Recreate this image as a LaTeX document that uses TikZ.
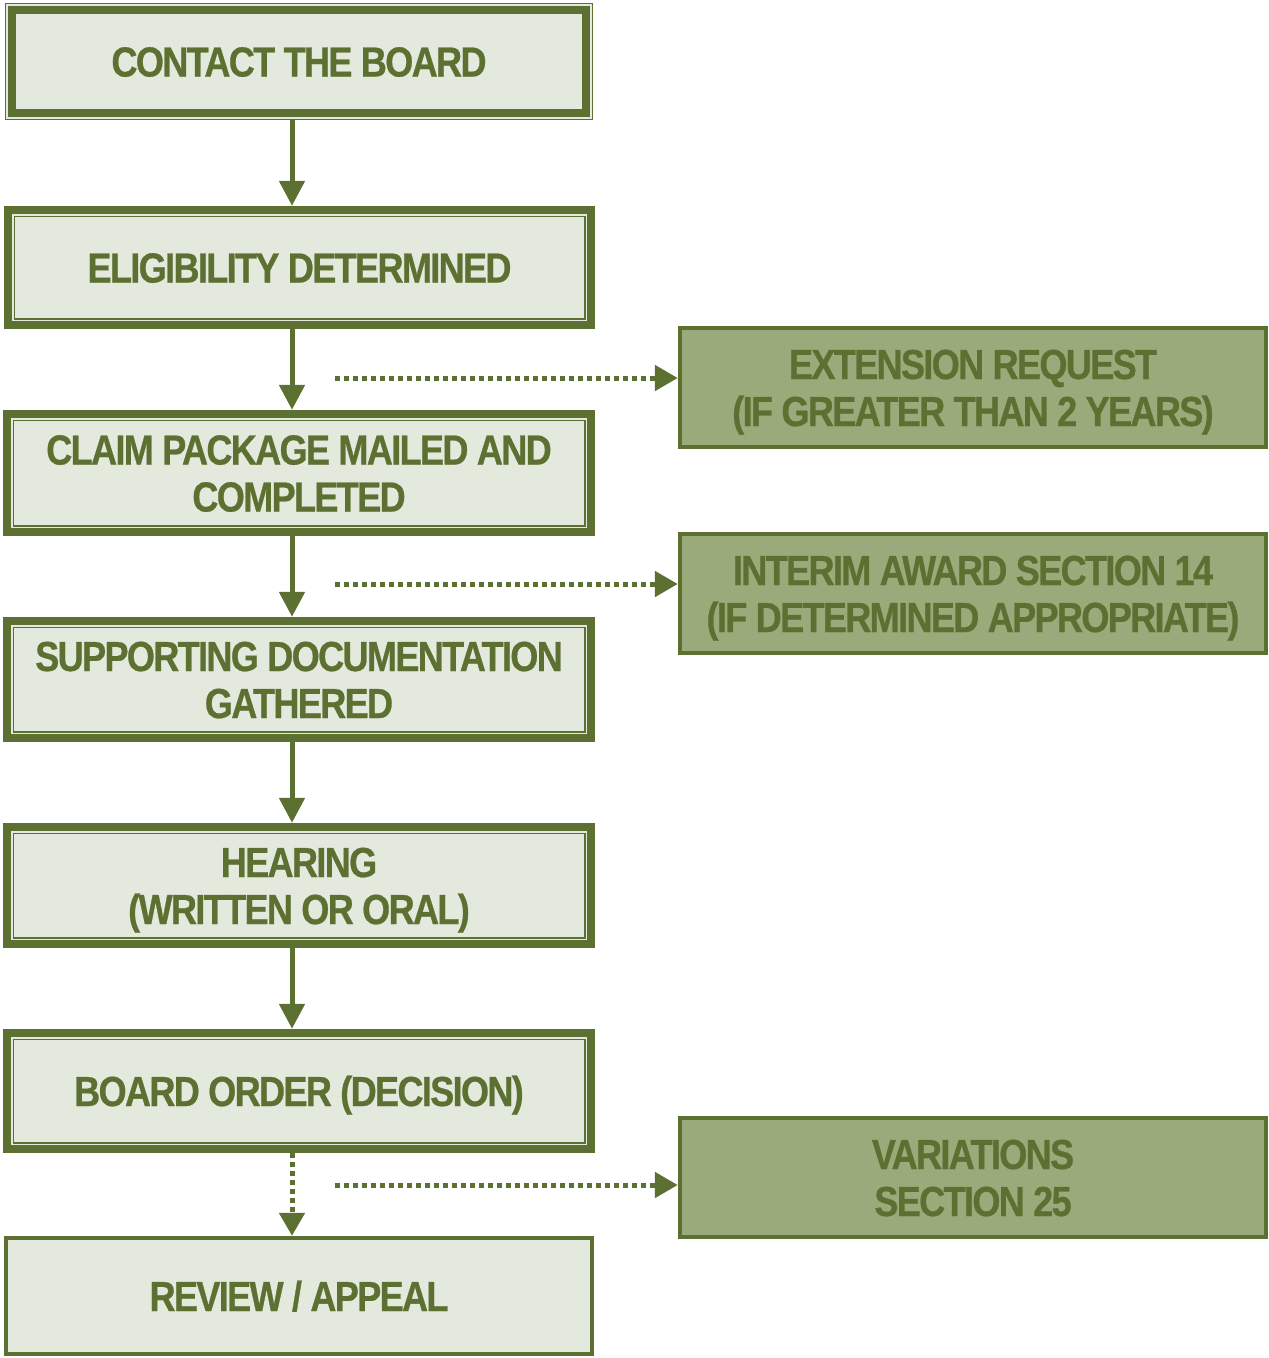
\documentclass[tikz,border=0pt]{standalone}
\usepackage{fontspec}
\newfontfamily\boxfont{Liberation Sans}[FakeStretch=0.86,LetterSpace=-4,FakeBold=0.6]
\usetikzlibrary{arrows.meta}
\definecolor{dk}{RGB}{91,112,49}
\definecolor{lt}{RGB}{227,233,221}
\definecolor{md}{RGB}{155,170,122}
\newcommand\capline[1]{\raisebox{0pt}[30pt][0pt]{#1}}
\tikzset{
  basebox/.style={inner sep=0pt, align=center, text=dk,
    font=\boxfont\bfseries\fontsize{42}{47}\selectfont},
  mainbox/.style={basebox, fill=lt},
  sidebox/.style={basebox, fill=md},
  solidarr/.style={dk, line width=5pt, -{Triangle[width=25pt,length=25pt]}},
  dotarr/.style={dk, line width=5pt, dash pattern=on 5pt off 4pt, -{Triangle[width=25pt,length=23pt]}},
}
\newcommand\thickthin[1]{%
  \draw[dk, line width=8pt] ([shift={(4pt,-4pt)}]#1.north west) rectangle ([shift={(-4pt,4pt)}]#1.south east);
  \draw[dk, line width=1.6pt] ([shift={(10.5pt,-10.5pt)}]#1.north west) rectangle ([shift={(-10.5pt,10.5pt)}]#1.south east);}
\newcommand\thinthick[1]{%
  \draw[dk, line width=1.6pt] ([shift={(0.8pt,-0.8pt)}]#1.north west) rectangle ([shift={(-0.8pt,0.8pt)}]#1.south east);
  \draw[dk, line width=8pt] ([shift={(7pt,-7pt)}]#1.north west) rectangle ([shift={(-7pt,7pt)}]#1.south east);}
\newcommand\plainborder[2]{%
  \draw[dk, line width=#2] ([shift={(#2/2,-#2/2)}]#1.north west) rectangle ([shift={(-#2/2,#2/2)}]#1.south east);}
\begin{document}
\begin{tikzpicture}[x=1pt,y=1pt]
\useasboundingbox (0,0) rectangle (1269,-1358);
% main column
\node[mainbox, minimum width=588pt, minimum height=117pt] (b1) at (299,-61.5) {\capline{CONTACT THE BOARD}};
\node[mainbox, minimum width=591pt, minimum height=123pt] (b2) at (299.5,-267.5) {\capline{ELIGIBILITY DETERMINED}};
\node[mainbox, minimum width=592pt, minimum height=126pt] (b3) at (299,-473) {\capline{CLAIM PACKAGE MAILED AND}\\\capline{COMPLETED}};
\node[mainbox, minimum width=592pt, minimum height=125pt] (b4) at (299,-679.5) {\capline{SUPPORTING DOCUMENTATION}\\\capline{GATHERED}};
\node[mainbox, minimum width=592pt, minimum height=125pt] (b5) at (299,-885.5) {\capline{HEARING}\\\capline{(WRITTEN OR ORAL)}};
\node[mainbox, minimum width=592pt, minimum height=124pt] (b6) at (299,-1091) {\capline{BOARD ORDER (DECISION)}};
\node[mainbox, minimum width=590pt, minimum height=120pt] (b7) at (299,-1296) {\capline{REVIEW / APPEAL}};
% side boxes
\node[sidebox, minimum width=590pt, minimum height=123pt] (r1) at (973,-387.5) {\capline{EXTENSION REQUEST}\\\capline{(IF GREATER THAN 2 YEARS)}};
\node[sidebox, minimum width=590pt, minimum height=123pt] (r2) at (973,-593.5) {\capline{INTERIM AWARD SECTION 14}\\\capline{(IF DETERMINED APPROPRIATE)}};
\node[sidebox, minimum width=590pt, minimum height=123pt] (r3) at (973,-1177.5) {\capline{VARIATIONS}\\\capline{SECTION 25}};
% borders
\thinthick{b1}
\thickthin{b2}
\thickthin{b3}
\thickthin{b4}
\thickthin{b5}
\thickthin{b6}
\plainborder{b7}{4pt}
\plainborder{r1}{4.5pt}
\plainborder{r2}{4.5pt}
\plainborder{r3}{4.5pt}
% connectors
\coordinate (ax) at (292,0);
\draw[solidarr] (b1.south -| ax) -- (b2.north -| ax);
\draw[solidarr] (b2.south -| ax) -- (b3.north -| ax);
\draw[solidarr] (b3.south -| ax) -- (b4.north -| ax);
\draw[solidarr] (b4.south -| ax) -- (b5.north -| ax);
\draw[solidarr] (b5.south -| ax) -- (b6.north -| ax);
\draw[dotarr] (b6.south -| ax) -- (b7.north -| ax);
\coordinate (c1) at (335,-378);
\coordinate (c2) at (335,-584);
\coordinate (c3) at (335,-1185);
\draw[dotarr] (c1) -- (c1 -| r1.west);
\draw[dotarr] (c2) -- (c2 -| r2.west);
\draw[dotarr] (c3) -- (c3 -| r3.west);
\end{tikzpicture}
\end{document}
